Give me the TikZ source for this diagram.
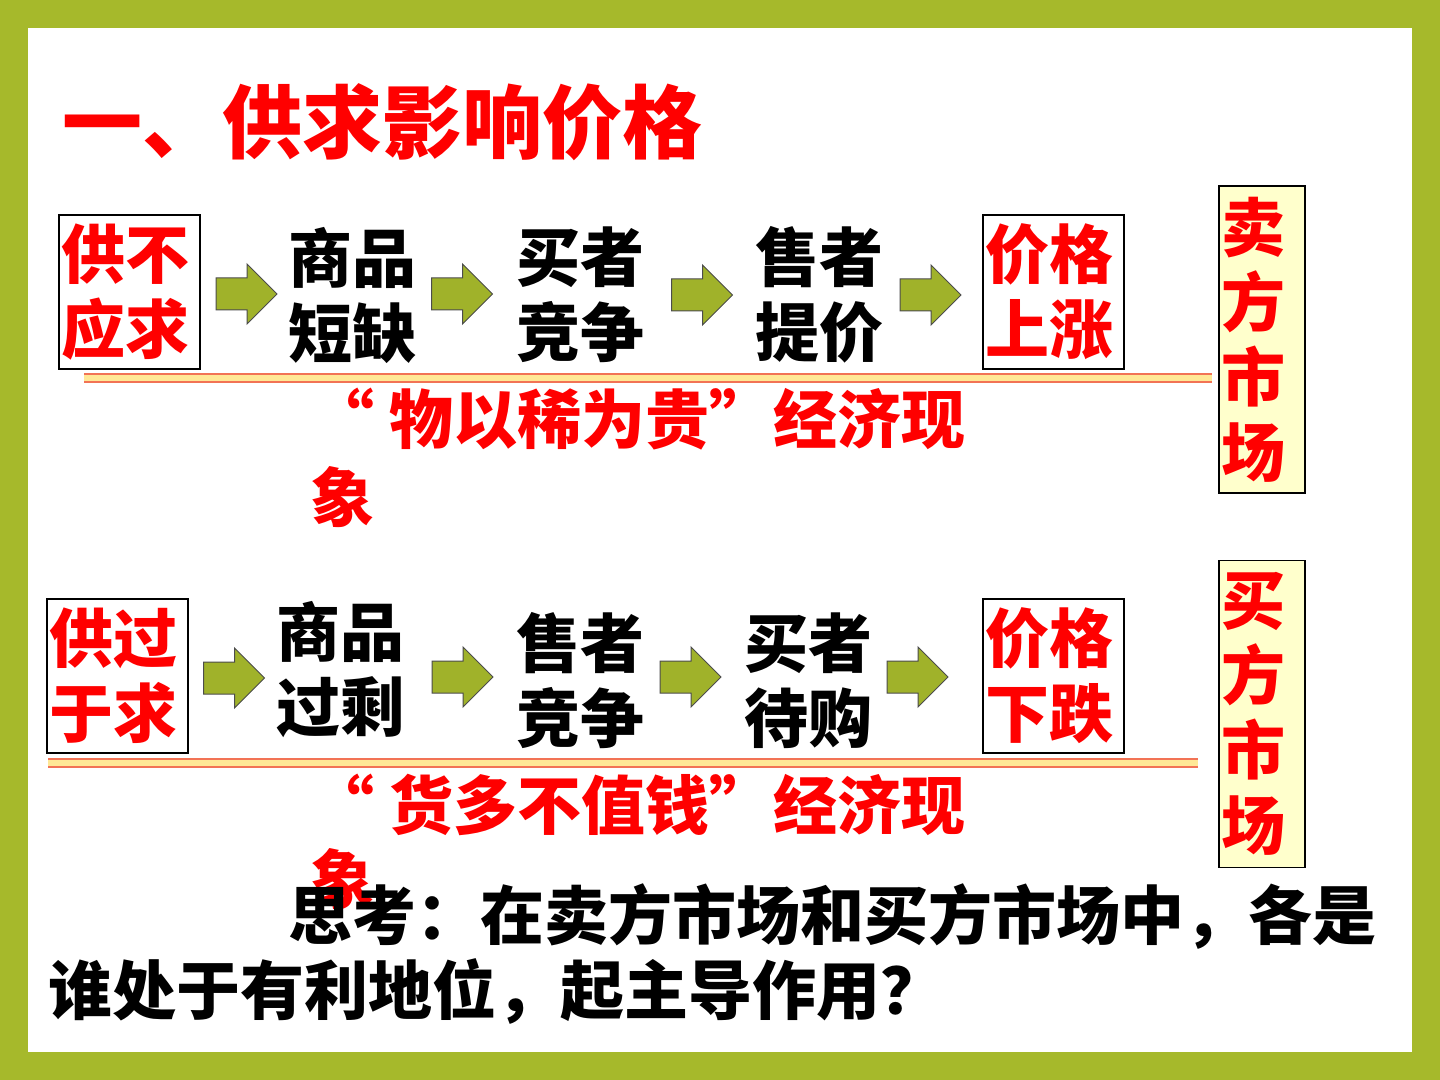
\documentclass[tikz,border=0pt]{standalone}
\usepackage{fontspec}
\newfontfamily\cjk{Noto Sans CJK SC}
\usepackage{tikz}
\usetikzlibrary{shapes.arrows}
\definecolor{frame}{RGB}{166,185,43}
\definecolor{olive}{RGB}{160,178,42}
\definecolor{paleyellow}{RGB}{255,255,204}
\definecolor{bandred}{RGB}{242,115,85}
\definecolor{bandyellow}{RGB}{255,232,150}

\begin{document}
\begin{tikzpicture}[x=0.5pt, y=-0.5pt, inner sep=0pt,
	every node/.style={font=\cjk\bfseries\fontsize{32pt}{37.5pt}\selectfont},
	box/.style={draw=black, line width=0.7pt, text=red, align=left, text width=68pt, minimum width=70.5pt, minimum height=77pt},
	market/.style={draw=black, line width=0.7pt, fill=paleyellow, text=red, align=left, text width=41pt, minimum width=43pt, minimum height=153.5pt},
	stage/.style={text=black, align=center},
	blockarrow/.style={shape=single arrow, draw=black!70, line width=0.5pt, fill=olive, inner xsep=0pt, inner ysep=7.75pt, minimum height=30.5pt, single arrow head extend=7pt},
	band/.style={draw=bandred, double=bandyellow, double distance=2.6pt, line width=1.4pt}]
	% green frame
	\fill[frame] (0,0) rectangle (1440,1080);
	\fill[white] (28,28) rectangle (1412,1052);
	\node[text=red, anchor=west, font=\cjk\bfseries\fontsize{40pt}{44pt}\selectfont] (title) at (62,122) {一、供求影响价格};
	% seller's market
	\node[box] (short) at (129.5,292) {供不\\应求};
	\node[stage] (scarce) at (352,295) {商品\\短缺};
	\node[stage] (buycomp) at (580,295) {买者\\竞争};
	\node[stage] (raise) at (819,295) {售者\\提价};
	\node[box] (up) at (1053.5,292) {价格\\上涨};
	\node[blockarrow] (a11) at (238.5,294) {};
	\node[blockarrow] (a12) at (454,294) {};
	\node[blockarrow] (a13) at (694,295) {};
	\node[blockarrow] (a14) at (922.5,295) {};
	\coordinate (b1s) at (84,378);
	\coordinate (b1e) at (1212,378);
	\draw[band] (b1s) -- (b1e);
	\node[text=red, anchor=north west, align=left, font=\cjk\bfseries\fontsize{32pt}{39pt}\selectfont] (rare) at (310,388) {“ 物以稀为贵”经济现\\象};
	\node[market] (sellm) at (1262,339.5) {卖\\方\\市\\场};
	% buyer's market
	\node[box] (over) at (117.5,676) {供过\\于求};
	\node[stage] (surplus) at (340,670) {商品\\过剩};
	\node[stage] (sellcomp) at (580,681) {售者\\竞争};
	\node[stage] (wait) at (808,681) {买者\\待购};
	\node[box] (down) at (1053.5,676) {价格\\下跌};
	\node[blockarrow] (a21) at (226,678) {};
	\node[blockarrow] (a22) at (454.5,677) {};
	\node[blockarrow] (a23) at (682.5,677) {};
	\node[blockarrow] (a24) at (909.5,677) {};
	\coordinate (b2s) at (48,763);
	\coordinate (b2e) at (1198,763);
	\draw[band] (b2s) -- (b2e);
	\node[text=red, anchor=north west, align=left, font=\cjk\bfseries\fontsize{32pt}{37pt}\selectfont] (cheap) at (310,774) {“ 货多不值钱”经济现\\象};
	\node[market] (buym) at (1262,714) {买\\方\\市\\场};
	% question
	\node[text=black, anchor=north west, align=left] (think) at (48,883) {\hspace*{120pt}思考：在卖方市场和买方市场中，各是\\谁处于有利地位，起主导作用？};
\end{tikzpicture}
\end{document}
